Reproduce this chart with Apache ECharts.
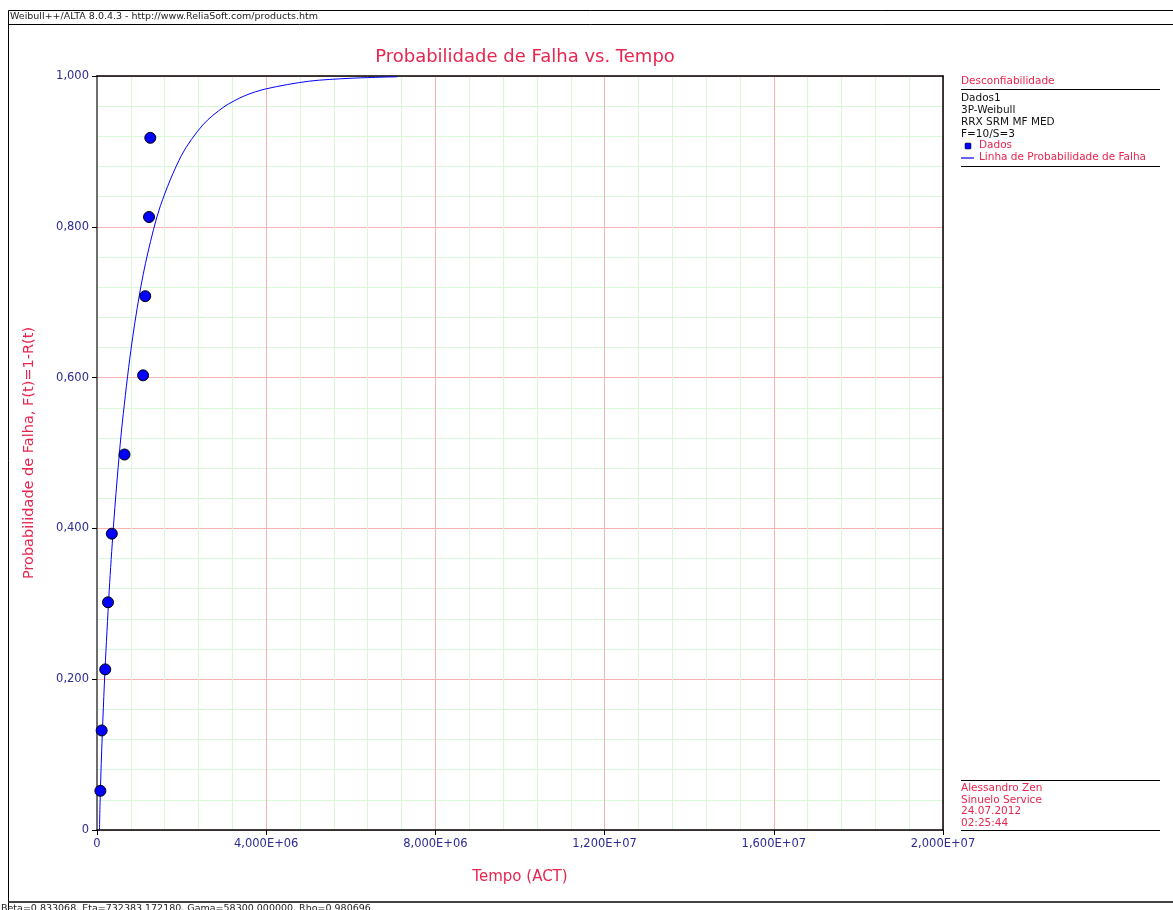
<!DOCTYPE html>
<html>
<head>
<meta charset="utf-8">
<title>Probabilidade de Falha vs. Tempo</title>
<script src="https://cdn.jsdelivr.net/npm/echarts@6/dist/echarts.min.js"></script>
<style>
  html, body { margin: 0; padding: 0; background: #ffffff; }
  #chart { width: 1173px; height: 910px; }
</style>
</head>
<body>
<div id="chart"></div>
<script>
// Failure data (time, median-rank unreliability)
const dataTimes = [80000, 110000, 195000, 260000, 350000, 650000, 1090000, 1140000, 1230000, 1260000];
const dataUnrel = [0.052, 0.132, 0.213, 0.302, 0.393, 0.498, 0.603, 0.708, 0.813, 0.918];

// Fitted 3P-Weibull unreliability line, sampled along time
const lineTimes = [58300, 70000, 100000, 150000, 200000, 300000, 400000, 500000, 600000, 800000,
                   1000000, 1200000, 1500000, 2000000, 2500000, 3000000, 3500000, 4000000,
                   5000000, 6000000, 7100000];
const lineUnrel = [0.000, 0.031, 0.088, 0.162, 0.225, 0.328, 0.411, 0.481, 0.541, 0.636,
                   0.709, 0.765, 0.828, 0.895, 0.935, 0.959, 0.974, 0.983,
                   0.993, 0.997, 0.999];

// Axis tick labels
const xTickLabels = ['0', '4,000E+06', '8,000E+06', '1,200E+07', '1,600E+07', '2,000E+07'];
const yTickLabels = ['0', '0,200', '0,400', '0,600', '0,800', '1,000'];

const legendInfo = ['Dados1', '3P-Weibull', 'RRX SRM MF MED', 'F=10/S=3'];
const userInfo = ['Alessandro Zen', 'Sinuelo Service', '24.07.2012', '02:25:44'];
const headerText = 'Weibull++/ALTA 8.0.4.3 - http://www.ReliaSoft.com/products.htm';
const footerText = 'Beta=0.833068, Eta=732383.172180, Gama=58300.000000, Rho=0.980696';

const RED = '#e8254f';
const NAVY = '#2b2b95';
const FONT = 'DejaVu Sans';

const chart = echarts.init(document.getElementById('chart'), null, { renderer: 'canvas' });

const gridL = 97, gridT = 76, gridW = 846, gridH = 754;

const graphics = [
  // outer frame and header
  { type: 'line', shape: { x1: 8.5, y1: 10.5, x2: 1173, y2: 10.5 }, style: { stroke: '#000', lineWidth: 1 } },
  { type: 'line', shape: { x1: 8.5, y1: 10.5, x2: 8.5, y2: 910 }, style: { stroke: '#000', lineWidth: 1 } },
  { type: 'line', shape: { x1: 8.5, y1: 24.5, x2: 1173, y2: 24.5 }, style: { stroke: '#000', lineWidth: 1 } },
  { type: 'line', shape: { x1: 8.5, y1: 902, x2: 1173, y2: 902 }, style: { stroke: '#444', lineWidth: 2 } },
  { type: 'text', left: 10, top: 12, style: { text: headerText, font: '9.5px ' + FONT, fill: '#222' } },
  { type: 'text', left: 1, top: 903.5, style: { text: footerText, font: '9.5px ' + FONT, fill: '#222' } },

  // legend block
  { type: 'text', left: 961, top: 76, style: { text: 'Desconfiabilidade', font: '10.5px ' + FONT, fill: RED } },
  { type: 'line', shape: { x1: 961, y1: 89.5, x2: 1160, y2: 89.5 }, style: { stroke: '#000', lineWidth: 1 } },
  { type: 'text', left: 961, top: 92, style: { text: legendInfo.join('\n'), font: '10.5px ' + FONT, fill: '#111', lineHeight: 12 } },
  { type: 'rect', shape: { x: 965, y: 143, width: 6, height: 6, r: 1 }, style: { fill: '#0000ff', stroke: '#000', lineWidth: 0.5 } },
  { type: 'text', left: 979, top: 140, style: { text: 'Dados', font: '10.5px ' + FONT, fill: RED } },
  { type: 'line', shape: { x1: 961, y1: 158, x2: 974, y2: 158 }, style: { stroke: '#0000ff', lineWidth: 1.2 } },
  { type: 'text', left: 979, top: 152, style: { text: 'Linha de Probabilidade de Falha', font: '10.5px ' + FONT, fill: RED } },
  { type: 'line', shape: { x1: 961, y1: 166.5, x2: 1160, y2: 166.5 }, style: { stroke: '#000', lineWidth: 1 } },

  // user / date block
  { type: 'line', shape: { x1: 961, y1: 780.5, x2: 1160, y2: 780.5 }, style: { stroke: '#000', lineWidth: 1 } },
  { type: 'text', left: 961, top: 783, style: { text: userInfo.join('\n'), font: '10.5px ' + FONT, fill: RED, lineHeight: 11.5 } },
  { type: 'line', shape: { x1: 961, y1: 830.5, x2: 1160, y2: 830.5 }, style: { stroke: '#000', lineWidth: 1 } }
];

const option = {
  backgroundColor: '#ffffff',
  animation: false,
  title: {
    text: 'Probabilidade de Falha vs. Tempo',
    left: 520, top: 43, textAlign: 'center',
    textStyle: { color: RED, fontFamily: FONT, fontSize: 18, fontWeight: 'normal' }
  },
  grid: { left: gridL, top: gridT, width: gridW, height: gridH, containLabel: false },
  xAxis: [{
    type: 'value', min: 0, max: 20000000, interval: 4000000,
    name: 'Tempo (ACT)', nameLocation: 'middle', nameGap: 40,
    nameTextStyle: { color: RED, fontFamily: FONT, fontSize: 15 },
    axisLine: { show: true, onZero: false, lineStyle: { color: '#000', width: 1.5 } },
    axisTick: { show: true, length: 5, lineStyle: { color: '#000' } },
    axisLabel: {
      color: NAVY, fontFamily: FONT, fontSize: 11.5, margin: 8,
      formatter: (v) => xTickLabels[Math.round(v / 4000000)]
    },
    splitLine: { show: true, lineStyle: { color: '#f6b3b3', width: 1 } },
    minorTick: { show: false, splitNumber: 5 },
    minorSplitLine: { show: true, lineStyle: { color: '#d9f7d9', width: 1 } }
  }, {
    type: 'value', min: 0, max: 20000000, position: 'top',
    axisLine: { show: true, onZero: false, lineStyle: { color: '#000', width: 1.5 } },
    axisTick: { show: false }, axisLabel: { show: false }, splitLine: { show: false }
  }],
  yAxis: [{
    type: 'value', min: 0, max: 1, interval: 0.2,
    name: 'Probabilidade de Falha, F(t)=1-R(t)', nameLocation: 'middle', nameGap: 60,
    nameTextStyle: { color: RED, fontFamily: FONT, fontSize: 14.5 },
    axisLine: { show: true, onZero: false, lineStyle: { color: '#6e6e6e', width: 2 } },
    axisTick: { show: true, length: 5, lineStyle: { color: '#000' } },
    axisLabel: {
      color: NAVY, fontFamily: FONT, fontSize: 11.5, margin: 8,
      formatter: (v) => yTickLabels[Math.round(v / 0.2)]
    },
    splitLine: { show: true, lineStyle: { color: '#f6b3b3', width: 1 } },
    minorTick: { show: false, splitNumber: 5 },
    minorSplitLine: { show: true, lineStyle: { color: '#d9f7d9', width: 1 } }
  }, {
    type: 'value', min: 0, max: 1, position: 'right',
    axisLine: { show: true, onZero: false, lineStyle: { color: '#000', width: 1.5 } },
    axisTick: { show: false }, axisLabel: { show: false }, splitLine: { show: false }
  }],
  series: [{
    name: 'Linha de Probabilidade de Falha',
    type: 'line',
    data: lineTimes.map((t, i) => [t, lineUnrel[i]]),
    smooth: 0.3,
    showSymbol: false,
    lineStyle: { color: '#0000ff', width: 1 },
    z: 3
  }, {
    name: 'Dados',
    type: 'scatter',
    data: dataTimes.map((t, i) => [t, dataUnrel[i]]),
    symbol: 'circle',
    symbolSize: 11,
    itemStyle: { color: '#0000ff', borderColor: '#000', borderWidth: 1, opacity: 1 },
    z: 4
  }],
  graphic: graphics
};

chart.setOption(option);
</script>
</body>
</html>
